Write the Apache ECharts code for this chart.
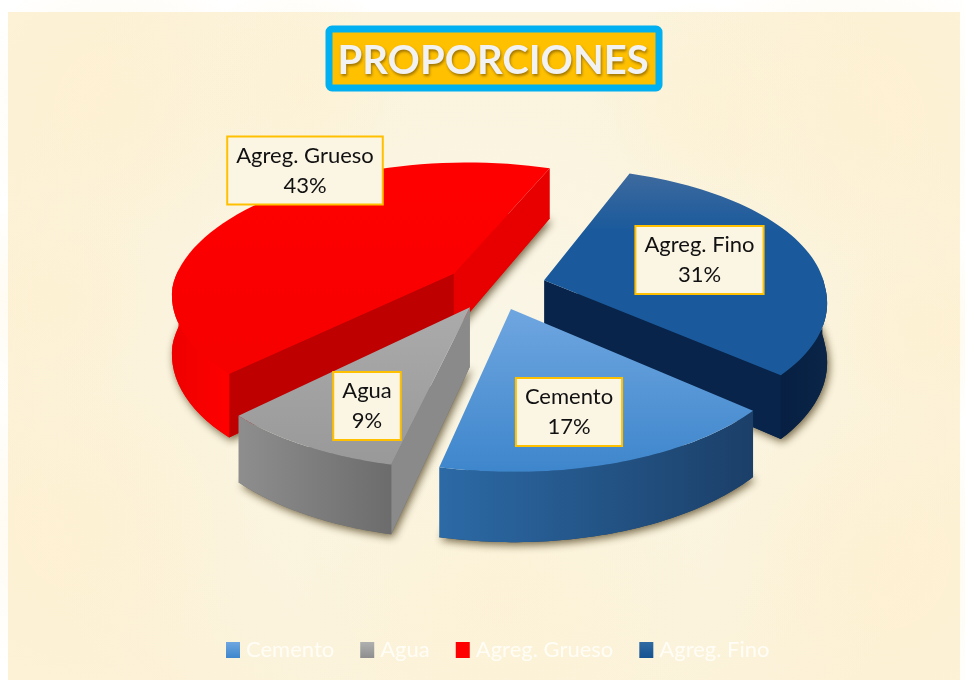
<!DOCTYPE html>
<html><head><meta charset="utf-8">
<style>html,body{margin:0;padding:0;background:#fff}#c{width:965px;height:680px}</style>
<script src="https://cdn.jsdelivr.net/npm/echarts@6/dist/echarts.min.js"></script>
</head><body><div id="c"></div>
<script>
var categories = ['Cemento', 'Agua', 'Agreg. Grueso', 'Agreg. Fino'];
var percents = [17, 9, 43, 31];
var labelCenters = [[569, 412], [367, 406], [305, 170.5], [699.5, 260]];
var palette = [
  {top:['#6FA6E0','#3E86CC'], arc:['#2C6AA6','#1B3F68'], cut:'#1F4E79', legend:['#6FA6E0','#3E86CC']},
  {top:['#ABABAB','#999999'], arc:['#8E8E8E','#6C6C6C'], cut:'#8A8A8A', legend:['#B0B0B0','#8E8E8E']},
  {top:['#FF0000','#F60000'], arc:['#EE0000','#FF0000'], cutStart:'#BE0000', cutEnd:'#E80000', legend:['#FF0000','#FF0000']},
  {top:['#3E6A9E','#1A5A9C'], topMid:0.28, arc:['#061F42','#0A2547'], cut:'#08244A', legend:['#2F6AA3','#165191']}
];
var cam = {cx:495, cy:286, A:281, B:131, p:0.149, H:58, e:0.18, first:41.5, shearBack:0.035};

function project(u, v, z) {
  var w = 1 - cam.p * v;
  var s = v < 0 ? cam.shearBack : 0;
  return [cam.cx + cam.A * (u - s * v) / w, cam.cy + (cam.B * v + z * cam.H) / w];
}
var total = percents.reduce(function (a, b) { return a + b; }, 0);
var angles = [], run = cam.first;
percents.forEach(function (p) { var s = p / total * 360; angles.push([run, run + s]); run += s; });

function grad(a, b, horizontal, mid) {
  var stops = [{offset:0,color:a}];
  if (mid) stops.push({offset:mid,color:b});
  stops.push({offset:1,color:b});
  return {type:'linear', x:0, y:0, x2:horizontal?1:0, y2:horizontal?0:1, colorStops:stops};
}
function poly(points, fill, extra) {
  var st = {fill:fill, stroke:null};
  if (extra) for (var k in extra) st[k] = extra[k];
  return {type:'polygon', shape:{points:points}, style:st, silent:true};
}
function rad(d) { return d * Math.PI / 180; }

function renderSlice(i) {
  var a0 = angles[i][0], a1 = angles[i][1], m = rad((a0 + a1) / 2);
  var ox = cam.e * Math.cos(m), oy = cam.e * Math.sin(m), col = palette[i];
  function rim(a, z) { return project(ox + Math.cos(rad(a)), oy + Math.sin(rad(a)), z); }
  var apexT = project(ox, oy, 0), apexB = project(ox, oy, 1);
  var topPts = [apexT], botPts = [apexB], steps = 60, s, a;
  for (s = 0; s <= steps; s++) {
    a = a0 + (a1 - a0) * s / steps;
    topPts.push(rim(a, 0)); botPts.push(rim(a, 1));
  }
  var kids = [];
  kids.push(poly(botPts, col.arc[1], {shadowBlur:9, shadowColor:'rgba(70,55,20,0.75)', shadowOffsetX:2, shadowOffsetY:3}));
  function signed(p, q, r) { return (q[0]-p[0])*(r[1]-p[1]) - (q[1]-p[1])*(r[0]-p[0]); }
  var c0T = rim(a0, 0), c0B = rim(a0, 1), c1T = rim(a1, 0), c1B = rim(a1, 1);
  // walls: the start edge and the end edge of the slice, drawn only when facing the viewer
  if (signed(apexT, c0T, c1T) * signed(apexT, c0T, apexB) < 0) kids.push(poly([apexT, c0T, c0B, apexB], col.cutStart || col.cut));
  if (signed(apexT, c1T, c0T) * signed(apexT, c1T, apexB) < 0) kids.push(poly([apexT, c1T, c1B, apexB], col.cutEnd || col.cut));
  // curved wall: only the part of the rim nearer the viewer
  var wallT = [], wallB = [];
  for (s = 0; s <= steps; s++) {
    a = a0 + (a1 - a0) * s / steps;
    if (Math.sin(rad(a)) >= -0.03) { wallT.push(rim(a, 0)); wallB.unshift(rim(a, 1)); }
  }
  if (wallT.length > 1) kids.push(poly(wallT.concat(wallB), grad(col.arc[0], col.arc[1], true)));
  kids.push(poly(topPts, grad(col.top[0], col.top[1], false, col.topMid)));
  return {type:'group', children:kids};
}

var chart = echarts.init(document.getElementById('c'), null, {renderer:'canvas'});
var series = categories.map(function (name, i) {
  return {
    name:name, type:'custom', coordinateSystem:'none', z:2 + [1,1,0,0][i],
    itemStyle:{color:grad(palette[i].legend[0], palette[i].legend[1], false)},
    data:[[percents[i]]],
    renderItem:function () { return renderSlice(i); }
  };
});
// value boxes sit above every slice
series.push({
  name:'labels', type:'custom', coordinateSystem:'none', z:10, silent:true,
  data:percents.map(function (v, i) { return [v, i]; }),
  renderItem:function (p, api) {
    var i = api.value(1);
    return {type:'text', x:labelCenters[i][0], y:labelCenters[i][1],
      style:{text:categories[i] + '\n' + api.value(0) + '%', fill:'#111', font:'22px Lato, sans-serif',
        align:'center', verticalAlign:'middle', lineHeight:30, backgroundColor:'#FBF5E4',
        borderColor:'#FFC000', borderWidth:2, padding:[3,8,3,8]}};
  }
});
var blotches = [[120,110,150],[850,120,170],[90,520,170],[880,560,160],[500,600,210],[300,90,110],[700,110,110],[60,300,110],[920,330,100]];
chart.setOption({
  animation:false,
  backgroundColor:'#fff',
  graphic:[{type:'rect', z:-10, shape:{x:8,y:12,width:952,height:668},
    style:{fill:{type:'radial',x:0.5,y:0.5,r:0.75,colorStops:[{offset:0,color:'#FAF6E6'},{offset:0.7,color:'#FBF3DC'},{offset:1,color:'#FDF1D6'}]}}, silent:true}]
    .concat(blotches.map(function (b) {
      return {type:'circle', z:-9, shape:{cx:b[0],cy:b[1],r:b[2]}, silent:true,
        style:{fill:{type:'radial',x:0.5,y:0.5,r:0.5,colorStops:[{offset:0,color:'rgba(255,240,205,0.45)'},{offset:1,color:'rgba(255,240,205,0)'}]}}};
    })),
  title:{text:'PROPORCIONES', left:328.5, top:28.5, padding:[13,11,7,9],
    backgroundColor:'#FFC000', borderColor:'#00B0F0', borderWidth:7, borderRadius:3,
    textStyle:{color:'#F2F2F2', fontFamily:'Lato', fontWeight:'bold', fontSize:40, lineHeight:40,
      textShadowColor:'rgba(90,60,0,0.6)', textShadowBlur:3, textShadowOffsetX:1, textShadowOffsetY:2}},
  legend:{data:categories, left:226, top:639, padding:0, icon:'rect', itemWidth:14, itemHeight:16, itemGap:26,
    textStyle:{color:'#FFFDF6', fontFamily:'Lato', fontSize:22, padding:[0,0,0,1]}, selectedMode:false},
  series:series
});
</script></body></html>
